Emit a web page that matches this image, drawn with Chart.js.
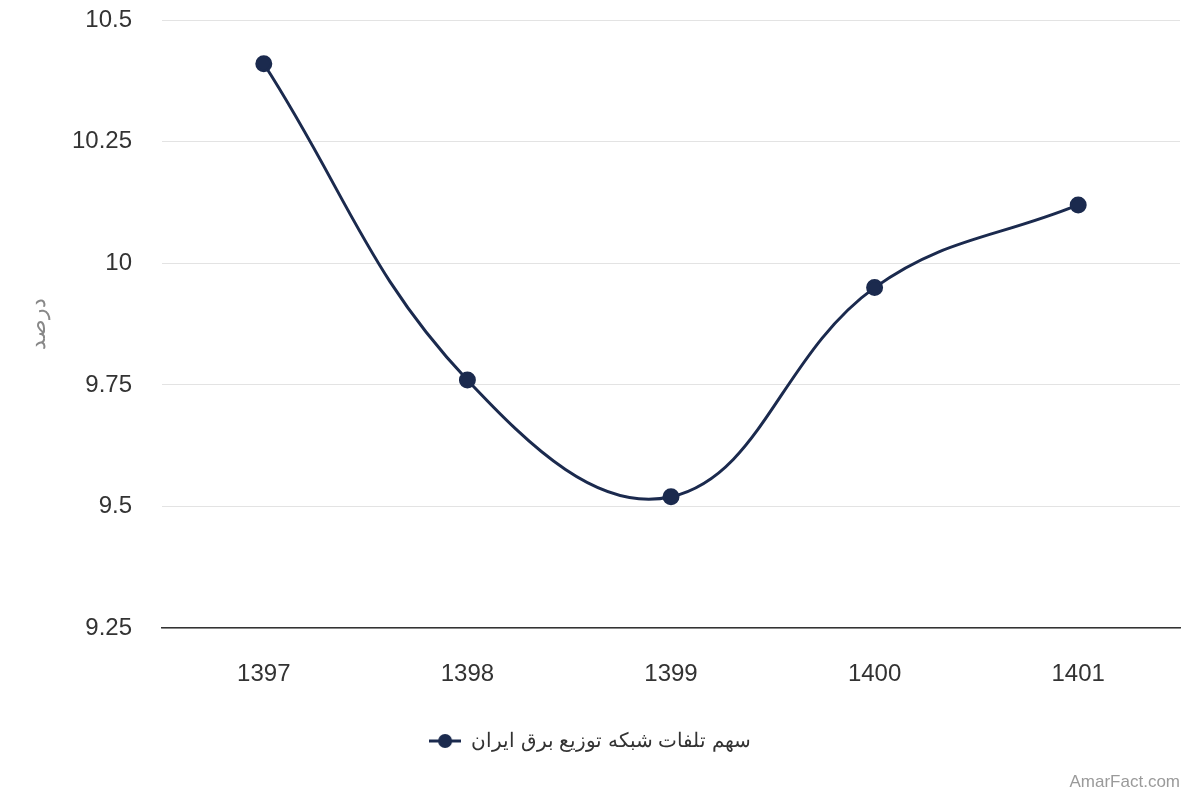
<!DOCTYPE html>
<html lang="fa">
<head>
<meta charset="utf-8">
<title>سهم تلفات شبکه توزیع برق ایران</title>
<script src="https://cdn.jsdelivr.net/npm/chart.js@4/dist/chart.umd.min.js"></script>
<style>
  html, body { margin: 0; padding: 0; background: #fff; }
  #wrap { width: 1200px; height: 800px; position: relative; }
</style>
</head>
<body>
<div id="wrap"><canvas id="chart"></canvas></div>
<script>
// داده‌ها
const years = ['1397', '1398', '1399', '1400', '1401'];
const lossShare = [10.41, 9.76, 9.52, 9.95, 10.12];
const yTicks = [9.25, 9.5, 9.75, 10, 10.25, 10.5];

const seriesName = 'سهم تلفات شبکه توزیع برق ایران';
const navy = '#1b2a4e';
const fontFamily = "Arial, 'Liberation Sans', sans-serif";

// نشانگر راهنما: خط + دایره
function legendMarker() {
    const c = document.createElement('canvas');
    c.width = 32;
    c.height = 16;
    const g = c.getContext('2d');
    g.strokeStyle = navy;
    g.lineWidth = 3;
    g.beginPath();
    g.moveTo(0, 8);
    g.lineTo(32, 8);
    g.stroke();
    g.fillStyle = navy;
    g.beginPath();
    g.arc(16, 8, 7, 0, Math.PI * 2);
    g.fill();
    return c;
}

// واترمارک
const watermark = {
    id: 'watermark',
    afterDraw(chart) {
        const ctx = chart.ctx;
        ctx.save();
        ctx.font = '17px ' + fontFamily;
        ctx.fillStyle = '#9a9a9a';
        ctx.textAlign = 'right';
        ctx.textBaseline = 'middle';
        ctx.fillText('AmarFact.com', 1180, 782);
        ctx.restore();
    }
};

new Chart(document.getElementById('chart'), {
    type: 'line',
    data: {
        labels: years,
        datasets: [{
            label: seriesName,
            data: lossShare,
            borderColor: navy,
            backgroundColor: navy,
            borderWidth: 3,
            tension: 0.4,
            pointRadius: 7,
            pointHoverRadius: 8,
            pointBackgroundColor: navy,
            pointBorderColor: navy,
            fill: false
        }]
    },
    options: {
        responsive: true,
        maintainAspectRatio: false,
        animation: false,
        layout: {
            padding: { top: 20, right: 20, bottom: 39, left: 0 }
        },
        plugins: {
            legend: {
                position: 'bottom',
                labels: {
                    usePointStyle: true,
                    pointStyle: legendMarker(),
                    pointStyleWidth: 32,
                    color: '#333',
                    padding: 10,
                    font: { size: 20, family: fontFamily }
                }
            },
            tooltip: { enabled: false }
        },
        scales: {
            x: {
                offset: true,
                grid: { display: false, drawTicks: false },
                border: { display: true, color: '#333', width: 1.5 },
                ticks: {
                    color: '#333',
                    padding: 32,
                    font: { size: 24, family: fontFamily }
                }
            },
            y: {
                min: yTicks[0],
                max: yTicks[yTicks.length - 1],
                afterBuildTicks: axis => {
                    axis.ticks = yTicks.map(v => ({ value: v }));
                },
                afterFit: axis => { axis.width = 162; },
                grid: {
                    color: '#e3e3e3',
                    lineWidth: 1,
                    drawTicks: true,
                    tickLength: 30,
                    tickColor: 'rgba(0,0,0,0)'
                },
                border: { display: false },
                ticks: {
                    color: '#333',
                    padding: 0,
                    font: { size: 24, family: fontFamily },
                    callback: v => String(v)
                },
                title: {
                    display: true,
                    text: 'درصد',
                    color: '#888',
                    padding: { top: 26, bottom: 0 },
                    font: { size: 22, family: fontFamily }
                }
            }
        }
    },
    plugins: [watermark]
});
</script>
</body>
</html>
